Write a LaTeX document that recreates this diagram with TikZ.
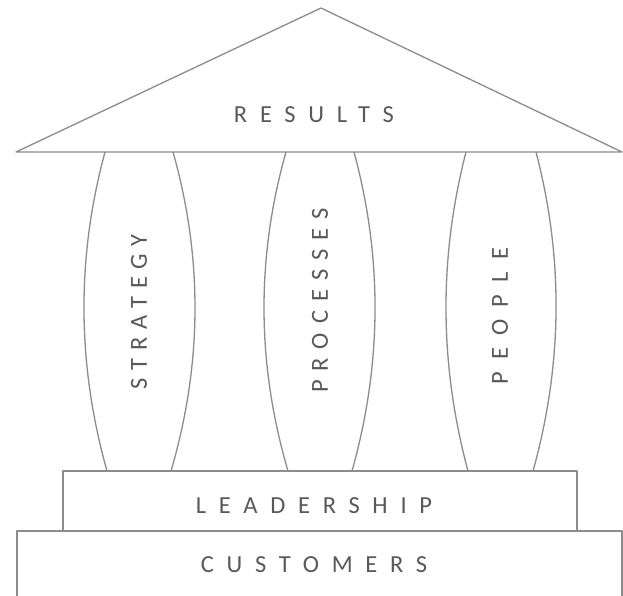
\documentclass[tikz,border=0pt]{standalone}
\usepackage{fontspec}
\newfontfamily\hlabel[LetterSpace=52]{Carlito}
\newfontfamily\strlabel[LetterSpace=33]{Carlito}
\newfontfamily\prolabel[LetterSpace=37]{Carlito}
\newfontfamily\peolabel[LetterSpace=50]{Carlito}
\definecolor{linegray}{HTML}{8C8C8C}
\definecolor{textgray}{HTML}{595959}
\begin{document}
\begin{tikzpicture}[x=1pt,y=-1pt,
  outline/.style={draw=linegray, line width=1.3pt, line join=round},
  word/.style={text=textgray, inner sep=0pt},
  hword/.style={word, font=\hlabel\fontsize{24.5}{24.5}\selectfont},
  vword/.style={word, rotate=90}]
\useasboundingbox (0,0) rectangle (623,596);
\clip (0,0) rectangle (623,596);
\fill[white] (0,0) rectangle (623,596);
% roof
\draw[outline] (321,8) -- (622,152) -- (16,152) -- cycle;
% pillars: each side a shallow parabolic arc
\draw[outline] (105,152) .. controls (76.3,258) and (77,364.3) .. (107,471);
\draw[outline] (173,152) .. controls (203,258) and (202.3,364.3) .. (171,471);
\draw[outline] (286,152) .. controls (256,258) and (256.7,364.3) .. (288,471);
\draw[outline] (354,152) .. controls (382.7,258) and (382,364.3) .. (352,471);
\draw[outline] (466,152) .. controls (438.7,258) and (439.3,364.3) .. (468,471);
\draw[outline] (536,152) .. controls (563.7,258) and (562.7,364.3) .. (533,471);
% base steps
\draw[outline, fill=white] (63,471) rectangle (577,531);
\draw[outline, fill=white] (17,531) rectangle (622,615);
% labels
\node[hword] (results) at (314,115) {RESULTS};
\node[vword, font=\strlabel\fontsize{24.5}{24.5}\selectfont] (strategy) at (139,312) {STRATEGY};
\node[vword, font=\prolabel\fontsize{24.5}{24.5}\selectfont] (processes) at (320,300.5) {PROCESSES};
\node[vword, font=\peolabel\fontsize{24.5}{24.5}\selectfont] (people) at (500,316) {PEOPLE};
\node[hword] (leadership) at (314,505.5) {LEADERSHIP};
\node[hword] (customers) at (314,565) {CUSTOMERS};
\end{tikzpicture}
\end{document}
